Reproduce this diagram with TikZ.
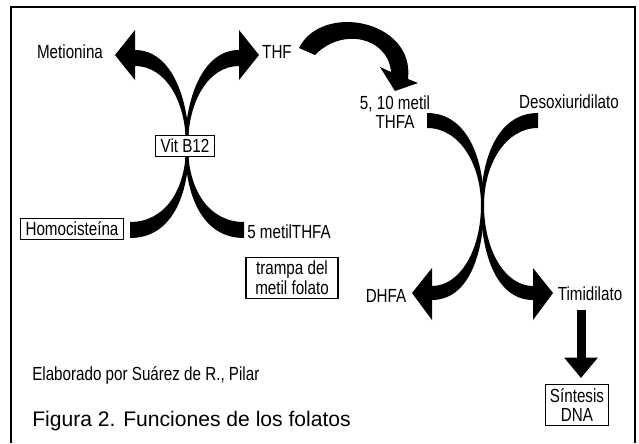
\documentclass[tikz,border=0pt]{standalone}
\usepackage{fontspec}
\setmainfont{Liberation Sans}
\newfontfamily\narrowfont[FakeStretch=0.8]{Liberation Sans}
\usetikzlibrary{arrows.meta}

\begin{document}
\begin{tikzpicture}
[x=0.025cm,y=-0.025cm,>=Triangle,
 lbl/.style={font=\narrowfont\fontsize{13.5}{14}\selectfont,inner sep=0pt,align=center},
 boxed/.style={lbl,draw,line width=1pt,inner xsep=3.5pt,inner ysep=2.5pt,fill=white},
 blob/.style={fill=black},]

\useasboundingbox (0,0) rectangle (639,443);
% frame, open at the bottom
\draw[line width=2.1pt] (11,443) -- (11,7) -- (635,7) -- (635,443);

% left cross: Homocisteina -> Metionina, 5 metilTHFA -> THF
\fill[blob] (130,222) .. controls (165,222) and (186,190) .. (186,146) .. controls (186,100) and (165,66) .. (135,66) -- (135,80) -- (115,55) -- (135,30) -- (135,50) .. controls (172,50) and (189,100) .. (189,146) .. controls (189,195) and (172,238) .. (130,238) -- cycle;
\fill[blob] (244,222) .. controls (209,222) and (188,190) .. (188,146) .. controls (188,100) and (209,66) .. (239,66) -- (239,80) -- (259,55) -- (239,30) -- (239,50) .. controls (202,50) and (185,100) .. (185,146) .. controls (185,195) and (202,238) .. (244,238) -- cycle;

% THF -> 5,10 metil THFA
\fill[blob] (299,48) .. controls (322,2) and (415,20) .. (408,79) -- (418,83) -- (395,91) -- (380,67) -- (391,72) .. controls (388,37) and (342,27) .. (315,55) -- cycle;

% right cross
\fill[blob] (427,128) .. controls (460,128) and (481,165) .. (481,205) .. controls (481,250) and (460,286) .. (432,286) -- (432,268) -- (412,293) -- (432,320) -- (432,300) .. controls (468,300) and (484,255) .. (484,205) .. controls (484,160) and (468,113) .. (427,113) -- cycle;
\fill[blob] (538,128) .. controls (505,128) and (484,165) .. (484,205) .. controls (484,250) and (505,286) .. (533,286) -- (533,268) -- (553,293) -- (533,320) -- (533,300) .. controls (497,300) and (481,255) .. (481,205) .. controls (481,160) and (497,113) .. (538,113) -- cycle;

\node (Met) at (70,52)[lbl]{Metionina};
\node (THF) at (277,52)[lbl]{THF};
\node (B12) at (185,146)[boxed]{Vit B12};
\node (Hcy) at (72,229)[boxed]{Homocisteína};
\node (MTHF) at (247,232)[lbl,anchor=west]{5 metilTHFA};
\node (Trap) at (292,278)[boxed,inner xsep=6.5pt]{trampa del\\metil folato};
\node (MeTHF) at (395,112)[lbl]{5, 10 metil\\THFA};
\node (dUMP) at (569,102)[lbl]{Desoxiuridilato};
\node (DHF) at (386,296)[lbl]{DHFA};
\node (dTMP) at (590,294)[lbl]{Timidilato};
\node (DNA) at (577,405)[boxed,inner xsep=3pt]{Síntesis\\DNA};
\node (Aut) at (32,375)[lbl,anchor=west]{Elaborado por Suárez de R., Pilar};
\node (Fig) at (32,421)[anchor=west,inner sep=0pt,font=\fontsize{15}{17}\selectfont]{Figura 2. Funciones de los folatos};

\coordinate (d1) at (581,310);
\coordinate (d2) at (581,378);
\draw[line width=6.4pt,-{Triangle[width=23pt,length=14.5pt]}] (d1) -- (d2);

\end{tikzpicture}
\end{document}
